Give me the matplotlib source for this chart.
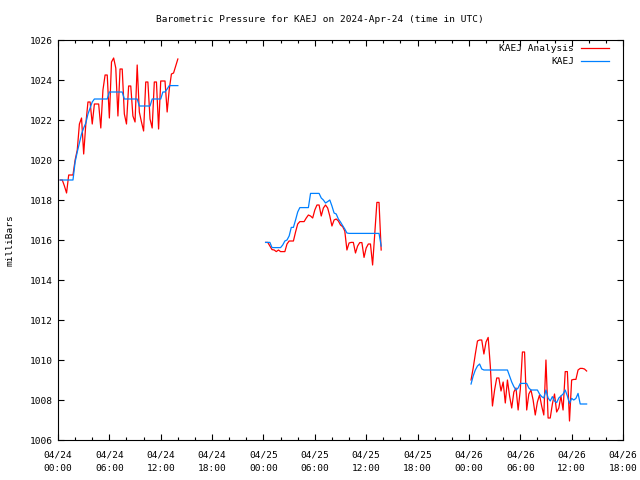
import numpy as np
import pandas as pd
import matplotlib
matplotlib.use("Agg")
import matplotlib.pyplot as plt
import matplotlib.dates as mdates

# ---- data (15-minute samples from 00:15 to 14:00 each day) ----
day_starts = ["2024-04-24 00:15", "2024-04-25 00:15", "2024-04-26 00:15"]
n_samples = 56
nan = np.nan

red_day1 = [1019.0, 1019.0, 1018.7, 1018.35, 1019.25, 1019.25, 1019.25, 1020.0, 1020.5, 1021.8,
            1022.1, 1020.3, 1021.8, 1022.9, 1022.9, 1021.8, 1022.8, 1022.8, 1022.8, 1021.6,
            1023.5, 1024.25, 1024.25, 1022.1, 1024.9, 1025.1, 1024.6, 1022.2, 1024.55, 1024.55,
            1022.3, 1021.8, 1023.7, 1023.7, 1022.2, 1021.9, 1024.75, 1022.4, 1021.9, 1021.45,
            1023.9, 1023.9, 1022.05, 1021.6, 1023.9, 1023.9, 1021.55, 1023.95, 1023.95, 1023.95,
            1022.4, 1023.55, 1024.3, 1024.35, 1024.7, 1025.05]
blue_day1 = [1019.0, 1019.0, 1019.0, 1019.0, 1019.0, 1019.0, 1019.0, 1019.9, 1020.4, 1020.85,
             1021.3, 1021.6, 1021.85, 1022.3, 1022.6, 1022.9, 1023.05, 1023.05, 1023.05, 1023.05,
             1023.05, 1023.05, 1023.05, 1023.4, 1023.4, 1023.4, 1023.4, 1023.4, 1023.4, 1023.4,
             1023.05, 1023.05, 1023.05, 1023.05, 1023.05, 1023.05, 1023.05, 1022.7, 1022.7, 1022.7,
             1022.7, 1022.7, 1022.7, 1023.05, 1023.05, 1023.05, 1023.05, 1023.05, 1023.4, 1023.4,
             1023.55, 1023.72, 1023.72, 1023.72, 1023.72, 1023.72]

red_day2 = [1015.88, 1015.88, 1015.7, 1015.52, 1015.5, 1015.42, 1015.5, 1015.42, 1015.42, 1015.42,
            1015.8, 1015.95, 1015.95, 1015.95, 1016.4, 1016.8, 1016.92, 1016.92, 1016.92, 1017.1,
            1017.25, 1017.2, 1017.1, 1017.5, 1017.75, 1017.75, 1017.2, 1017.6, 1017.75, 1017.6,
            1017.2, 1016.7, 1017.0, 1017.05, 1016.95, 1016.75, 1016.67, 1016.45, 1015.5, 1015.85,
            1015.88, 1015.88, 1015.35, 1015.7, 1015.87, 1015.87, 1015.13, 1015.6, 1015.8, 1015.8,
            1014.75, 1016.3, 1017.88, 1017.88, 1015.5, nan]
blue_day2 = [1015.88, 1015.88, 1015.88, 1015.62, 1015.62, 1015.62, 1015.62, 1015.62, 1015.75, 1015.95,
             1016.0, 1016.2, 1016.63, 1016.63, 1017.0, 1017.4, 1017.62, 1017.62, 1017.62, 1017.62,
             1017.62, 1018.33, 1018.33, 1018.33, 1018.33, 1018.33, 1018.1, 1018.0, 1017.85, 1017.92,
             1018.0, 1017.7, 1017.35, 1017.3, 1017.05, 1016.9, 1016.72, 1016.55, 1016.35, 1016.33,
             1016.33, 1016.33, 1016.33, 1016.33, 1016.33, 1016.33, 1016.33, 1016.33, 1016.33, 1016.33,
             1016.33, 1016.33, 1016.33, 1016.33, 1015.7, nan]

red_day3 = [1009.0, 1009.6, 1010.3, 1010.95, 1011.0, 1011.0, 1010.3, 1010.9, 1011.13, 1009.7,
            1007.7, 1008.5, 1009.1, 1009.1, 1008.45, 1008.9, 1007.85, 1009.0, 1008.2, 1007.6,
            1008.4, 1008.6, 1007.5, 1008.5, 1010.4, 1010.4, 1007.5, 1008.3, 1008.5, 1008.0,
            1007.25, 1007.9, 1008.25, 1007.7, 1007.25, 1010.0, 1007.1, 1007.1, 1007.8, 1008.3,
            1007.4, 1007.6, 1008.2, 1007.5, 1009.42, 1009.42, 1006.95, 1009.0, 1009.03, 1009.03,
            1009.5, 1009.58, 1009.58, 1009.55, 1009.45, nan]
blue_day3 = [1008.8, 1009.2, 1009.5, 1009.7, 1009.8, 1009.55, 1009.5, 1009.5, 1009.5, 1009.5,
             1009.5, 1009.5, 1009.5, 1009.5, 1009.5, 1009.5, 1009.5, 1009.5, 1009.2, 1008.9,
             1008.67, 1008.5, 1008.6, 1008.83, 1008.83, 1008.83, 1008.83, 1008.6, 1008.5, 1008.5,
             1008.5, 1008.5, 1008.3, 1008.17, 1008.1, 1008.5, 1008.1, 1007.95, 1008.17, 1007.95,
             1007.87, 1008.1, 1008.2, 1008.3, 1008.5, 1008.2, 1007.83, 1008.08, 1008.0, 1008.08,
             1008.33, 1007.8, 1007.8, 1007.8, 1007.8, nan]

red_series = [red_day1, red_day2, red_day3]
blue_series = [blue_day1, blue_day2, blue_day3]

title = "Barometric Pressure for KAEJ on 2024-Apr-24 (time in UTC)"
ylabel = "milliBars"
red_label = "KAEJ Analysis"
blue_label = "KAEJ"
x_start, x_end = "2024-04-24 00:00", "2024-04-26 18:00"
y_min, y_max = 1006, 1026

RED = "#ff0000"
BLUE = "#0080ff"
FONT = "DejaVu Sans Mono"
FS = 6.8

plt.rcParams["font.family"] = FONT
plt.rcParams["font.size"] = FS

fig = plt.figure(figsize=(6.4, 4.8), dpi=100)
ax = fig.add_axes([58 / 640, 40 / 480, 565 / 640, 400 / 480])

for k in range(3):
    t = pd.date_range(day_starts[k], periods=n_samples, freq="15min")
    ax.plot(t, red_series[k], color=RED, lw=0.9, label=red_label if k == 0 else None)
for k in range(3):
    t = pd.date_range(day_starts[k], periods=n_samples, freq="15min")
    ax.plot(t, blue_series[k], color=BLUE, lw=0.9, label=blue_label if k == 0 else None)

ax.set_xlim(pd.Timestamp(x_start), pd.Timestamp(x_end))
ax.set_ylim(y_min, y_max)
ax.yaxis.set_major_locator(plt.MultipleLocator(2))
ax.xaxis.set_major_locator(mdates.HourLocator(byhour=[0, 6, 12, 18]))
ax.xaxis.set_minor_locator(mdates.HourLocator(byhour=range(0, 24, 2)))
ax.xaxis.set_major_formatter(mdates.DateFormatter("%m/%d\n%H:%M"))

ax.tick_params(which="both", direction="in", top=True, right=True, width=0.8)
ax.tick_params(which="major", length=4.5)
ax.tick_params(which="minor", length=2.5)
ax.tick_params(axis="x", pad=7.5)
ax.tick_params(axis="y", pad=4)
for lab in ax.get_xticklabels():
    lab.set_linespacing(1.6)
for s in ax.spines.values():
    s.set_linewidth(0.8)

fig.text(0.5, 1 - 20 / 480, title, ha="center", va="center", fontsize=FS)
fig.text(10 / 640, 0.5, ylabel, ha="center", va="center", rotation=90, fontsize=FS)

ax.legend(loc="upper right", markerfirst=False, frameon=False, fontsize=FS,
          handlelength=2.9, handletextpad=0.75, labelspacing=0.45,
          borderaxespad=0, borderpad=0.2, bbox_to_anchor=(0.978, 0.995))

fig.savefig("out.png", dpi=100)
